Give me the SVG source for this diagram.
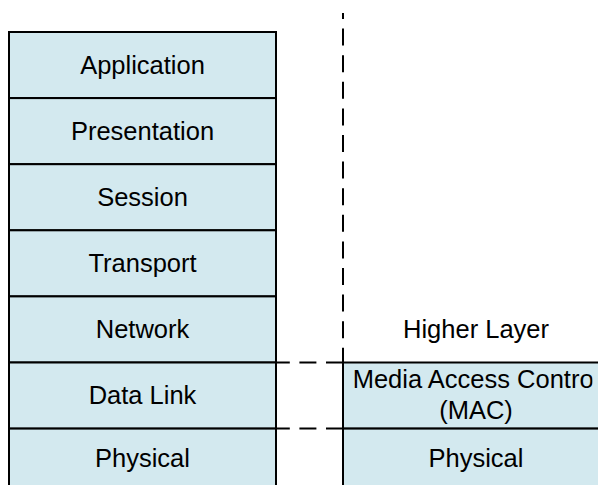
<svg xmlns="http://www.w3.org/2000/svg" width="598" height="485" viewBox="0 0 598 485">
<style>
.box{fill:#D3E9EF;stroke:#000;stroke-width:2}
.t{font-family:"Liberation Sans",Arial,sans-serif;font-size:25.5px;fill:#000;text-anchor:middle}
.dash{stroke:#000;stroke-width:2;fill:none;stroke-dasharray:17 9.6}
</style>
<defs><clipPath id="macclip"><rect x="343" y="362" width="249.5" height="67"/></clipPath></defs>
<rect width="598" height="485" fill="#fff"/>
<g id="osi">
<g id="application"><rect class="box" x="9" y="32" width="267" height="66.1"/><text class="t" x="142.5" y="73.5">Application</text></g>
<g id="presentation"><rect class="box" x="9" y="98.1" width="267" height="66.1"/><text class="t" x="142.5" y="139.6">Presentation</text></g>
<g id="session"><rect class="box" x="9" y="164.2" width="267" height="66.1"/><text class="t" x="142.5" y="205.7">Session</text></g>
<g id="transport"><rect class="box" x="9" y="230.3" width="267" height="66.1"/><text class="t" x="142.5" y="271.8">Transport</text></g>
<g id="network"><rect class="box" x="9" y="296.4" width="267" height="66.1"/><text class="t" x="142.5" y="337.9">Network</text></g>
<g id="datalink"><rect class="box" x="9" y="362.5" width="267" height="66.1"/><text class="t" x="142.5" y="404">Data Link</text></g>
<g id="physical-left"><rect class="box" x="9" y="428.6" width="267" height="66.1"/><text class="t" x="142.5" y="467">Physical</text></g>
</g>
<g id="ieee">
<g id="higher"><text class="t" x="476" y="337.5">Higher Layer</text></g>
<g id="mac"><rect class="box" x="343" y="362.5" width="266" height="66.1"/><text class="t" x="476" y="387.5" clip-path="url(#macclip)">Media Access Control</text><text class="t" x="476" y="418.5">(MAC)</text></g>
<g id="physical-right"><rect class="box" x="343" y="428.6" width="266" height="66.1"/><text class="t" x="476" y="467">Physical</text></g>
</g>
<g id="connectors">
<line class="dash" x1="343" y1="13" x2="343" y2="362.5" stroke-dashoffset="11"/>
<line class="dash" x1="343" y1="362.5" x2="276" y2="362.5"/>
<line class="dash" x1="343" y1="428.6" x2="276" y2="428.6"/>
</g>
</svg>
